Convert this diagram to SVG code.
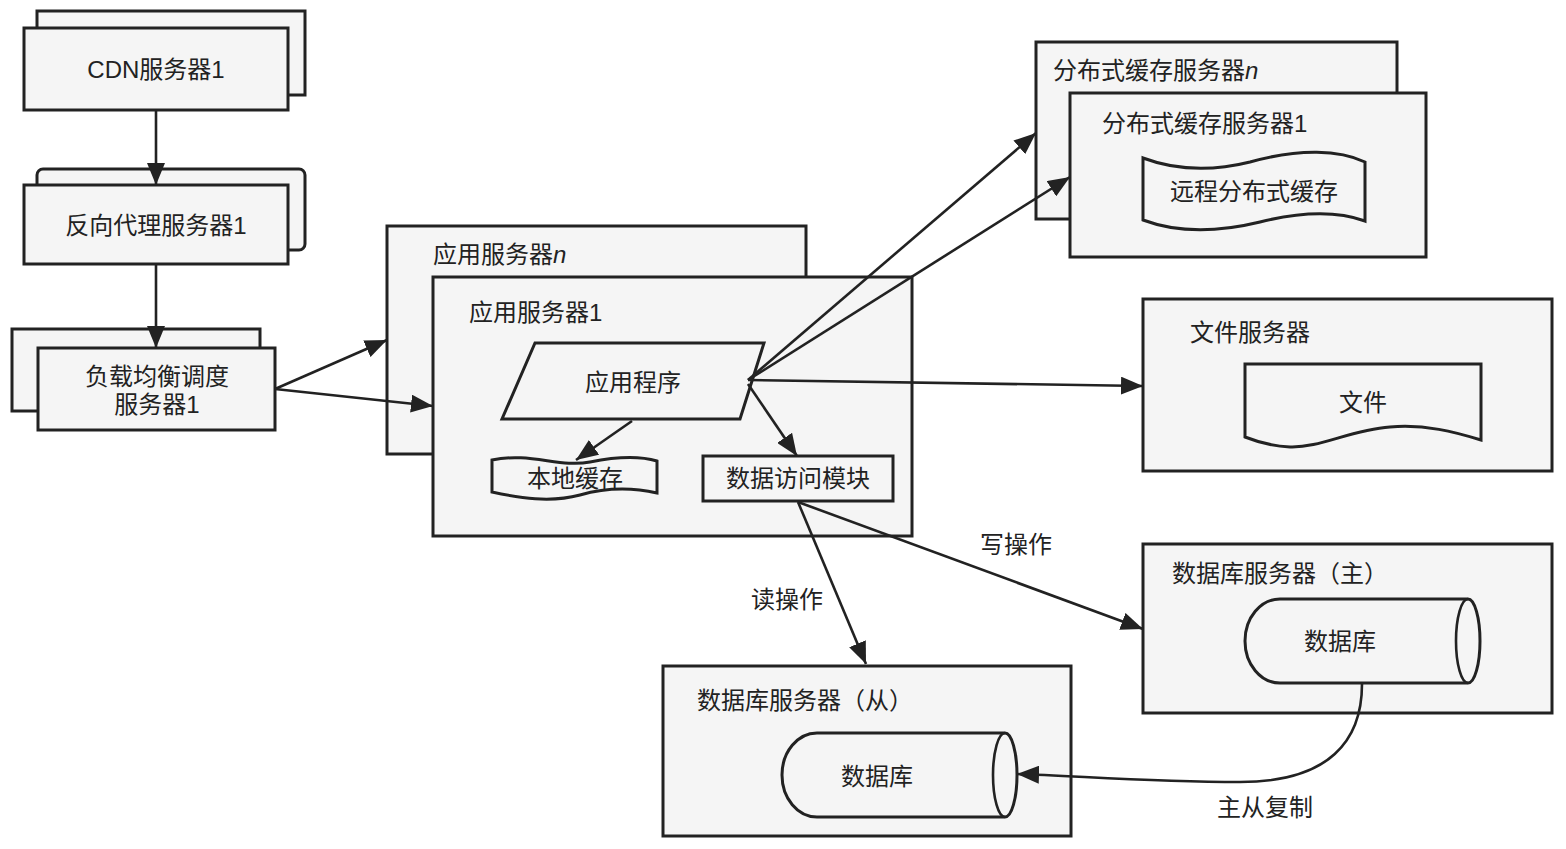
<svg xmlns="http://www.w3.org/2000/svg" width="1566" height="849" viewBox="0 0 1566 849">
<style>
.b{fill:#f5f5f5;stroke:#222;stroke-width:3}
.t{font-family:"Liberation Sans","Noto Sans CJK SC",sans-serif;font-size:24px;fill:#222}
.c{text-anchor:middle}
.e{fill:none;stroke:#222;stroke-width:2.6}
</style>
<defs>
<marker id="ah" markerUnits="userSpaceOnUse" markerWidth="24" markerHeight="18" refX="22" refY="9" orient="auto">
<path d="M0,0 L22,9 L0,18 Z" fill="#222"/>
</marker>
</defs>
<rect width="1566" height="849" fill="#fff"/>

<g id="cdn">
<rect class="b" x="37" y="11" width="268" height="84"/>
<rect class="b" x="24" y="28" width="264" height="82"/>
<text class="t c" x="156" y="78">CDN服务器1</text>
</g>

<g id="proxy">
<rect class="b" x="37" y="169" width="268" height="81" rx="6"/>
<rect class="b" x="24" y="185" width="264" height="79"/>
<text class="t c" x="156" y="234">反向代理服务器1</text>
</g>

<g id="lb">
<rect class="b" x="12" y="329" width="248" height="82"/>
<rect class="b" x="38" y="348" width="237" height="82"/>
<text class="t c" x="157" y="385">负载均衡调度</text>
<text class="t c" x="157" y="413">服务器1</text>
</g>

<g id="appn">
<rect class="b" x="387" y="226" width="419" height="228"/>
<text class="t" x="433" y="263">应用服务器<tspan font-style="italic">n</tspan></text>
</g>

<g id="app1">
<rect class="b" x="433" y="277" width="479" height="259"/>
<text class="t" x="469" y="321">应用服务器1</text>
</g>

<g id="program">
<path class="b" d="M535,343 L764,343 L740,419 L502,419 Z"/>
<text class="t c" x="633" y="391">应用程序</text>
</g>

<g id="localcache">
<path class="b" d="M492,460 C530,452 560,468 590,462 C620,456 640,456 657,461 L657,493 C630,487 605,488 580,495 C550,503 520,498 492,492 Z"/>
<text class="t c" x="575" y="487">本地缓存</text>
</g>

<g id="dam">
<rect class="b" x="703" y="456" width="190" height="45"/>
<text class="t c" x="798" y="487">数据访问模块</text>
</g>

<g id="cachen">
<rect class="b" x="1036" y="42" width="361" height="177"/>
<text class="t" x="1053" y="79">分布式缓存服务器<tspan font-style="italic">n</tspan></text>
</g>

<g id="cache1">
<rect class="b" x="1070" y="93" width="356" height="164"/>
<text class="t" x="1102" y="132">分布式缓存服务器1</text>
<path class="b" d="M1143,158 C1175,170 1210,172 1250,162 C1300,148 1340,150 1365,162 L1365,221 C1335,210 1300,212 1260,222 C1215,233 1175,232 1143,220 Z"/>
<text class="t c" x="1254" y="200">远程分布式缓存</text>
</g>

<g id="fileserver">
<rect class="b" x="1143" y="299" width="409" height="172"/>
<text class="t" x="1190" y="341">文件服务器</text>
<path class="b" d="M1245,364 L1481,364 L1481,440 C1455,432 1425,424 1390,427 C1350,430 1320,448 1290,447 C1270,446 1255,441 1245,437 Z"/>
<text class="t c" x="1363" y="411">文件</text>
</g>

<g id="dbmaster">
<rect class="b" x="1143" y="544" width="409" height="169"/>
<text class="t" x="1172" y="582">数据库服务器（主）</text>
<path class="b" d="M1280,599 L1468,599 A12,42 0 0 1 1468,683 L1280,683 A35,42 0 0 1 1280,599 Z"/>
<path class="e" d="M1468,599 A12,42 0 0 0 1468,683" stroke-width="3"/>
<text class="t c" x="1340" y="650">数据库</text>
</g>

<g id="dbslave">
<rect class="b" x="663" y="666" width="408" height="170"/>
<text class="t" x="697" y="709">数据库服务器（从）</text>
<path class="b" d="M817,733 L1005,733 A12,42 0 0 1 1005,817 L817,817 A35,42 0 0 1 817,733 Z"/>
<path class="e" d="M1005,733 A12,42 0 0 0 1005,817" stroke-width="3"/>
<text class="t c" x="877" y="785">数据库</text>
</g>

<g id="connectors">
<line class="e" x1="156" y1="111" x2="156" y2="185" marker-end="url(#ah)"/>
<line class="e" x1="156" y1="265" x2="156" y2="348" marker-end="url(#ah)"/>
<line class="e" x1="275" y1="389" x2="387" y2="340" marker-end="url(#ah)"/>
<line class="e" x1="275" y1="389" x2="433" y2="406" marker-end="url(#ah)"/>
<line class="e" x1="748" y1="380" x2="1036" y2="133" marker-end="url(#ah)"/>
<line class="e" x1="748" y1="380" x2="1070" y2="177" marker-end="url(#ah)"/>
<line class="e" x1="748" y1="380" x2="1143" y2="386" marker-end="url(#ah)"/>
<line class="e" x1="748" y1="384" x2="797" y2="456" marker-end="url(#ah)"/>
<line class="e" x1="632" y1="421" x2="576" y2="460" marker-end="url(#ah)"/>
<line class="e" x1="798" y1="502" x2="866" y2="664" marker-end="url(#ah)"/>
<line class="e" x1="798" y1="502" x2="1143" y2="629" marker-end="url(#ah)"/>
<path class="e" d="M1362,684 C1362,740 1330,782 1240,782 C1150,782 1080,776 1017,774" marker-end="url(#ah)"/>
<text class="t c" x="787" y="608">读操作</text>
<text class="t c" x="1016" y="553">写操作</text>
<text class="t c" x="1265" y="816">主从复制</text>
</g>
</svg>
